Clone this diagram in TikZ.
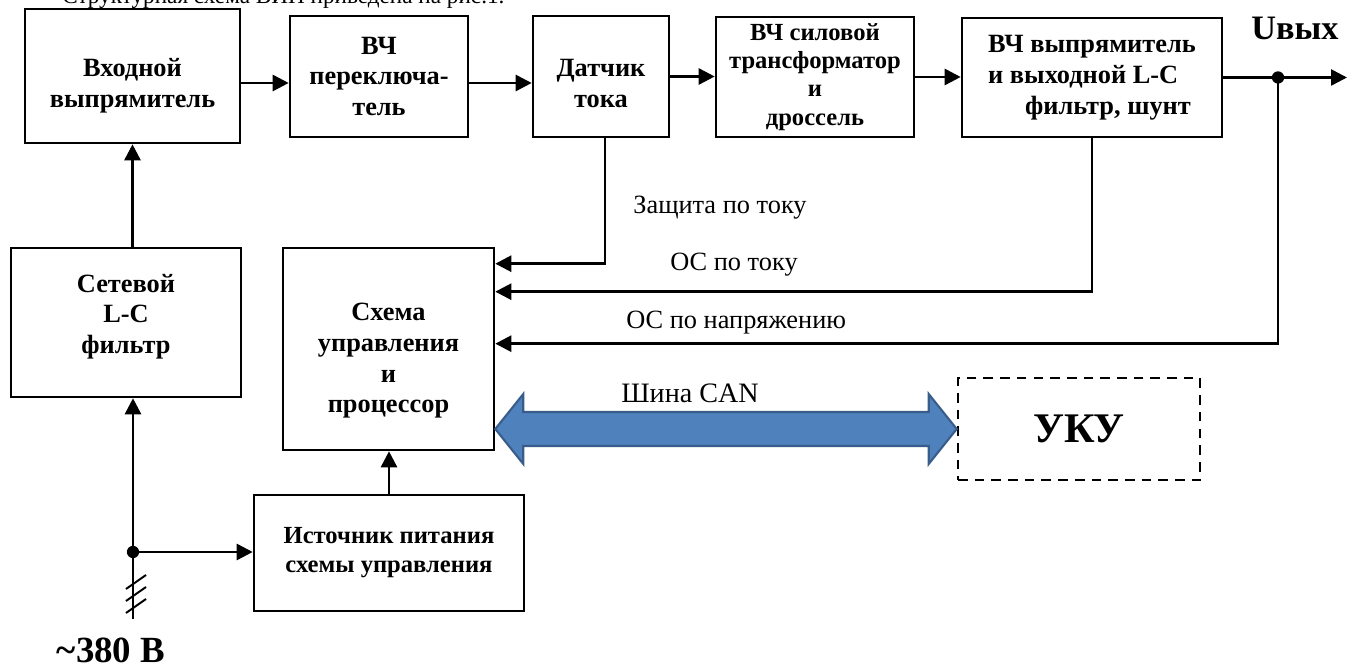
\documentclass[tikz,border=0pt]{standalone}
\usepackage{fontspec}
\setmainfont{Liberation Serif}
\usepackage{xcolor}
\usetikzlibrary{arrows.meta,positioning,calc}

\definecolor{busfill}{RGB}{79,129,189}
\definecolor{busline}{RGB}{56,93,138}
\newcommand{\topgap}[1]{\rule{0pt}{#1}}
\newcommand{\botgap}[1]{\rule[-#1]{0pt}{#1}}

\begin{document}
\begin{tikzpicture}[x=0.02cm, y=-0.02cm,
    block/.style={draw, line width=1.5pt, align=center, inner sep=2pt, font=\fontsize{15}{17.5}\selectfont\bfseries},
    lbl/.style={font=\fontsize{15}{17}\selectfont, anchor=west, inner sep=0pt},
    wire/.style={line width=1.5pt},
    arr/.style={-{Triangle[length=3.2mm, width=3.2mm]}, line width=1.5pt},
    bus/.style={draw=busline, fill=busfill, line width=1.2pt, line join=miter}
]
    \useasboundingbox (0,0) rectangle (1347,671);

    % heading line (cut at the top)
    \node[lbl, anchor=base west, font=\fontsize{13.2}{15}\selectfont] (title) at (62,4) {Структурная схема ВИП приведена на рис.1.};

    % power chain
    \node[block, minimum width=4.3cm, minimum height=2.68cm] (inp) at (132.5,76) {\topgap{21pt}Входной\\выпрямитель};
    \node[block, minimum width=3.56cm, minimum height=2.42cm] (sw) at (379,76.5) {ВЧ\\переключа-\\тель};
    \node[block, minimum width=2.72cm, minimum height=2.42cm] (sens) at (601,76.5) {\topgap{18pt}Датчик\\тока};
    \node[block, minimum width=3.96cm, minimum height=2.4cm, font=\fontsize{14}{16}\selectfont\bfseries] (tr) at (815,77) {ВЧ силовой\\трансформатор\\и\\дроссель};
    \node[block, minimum width=5.2cm, minimum height=2.38cm, align=left] (rect) at (1092,77.5) {ВЧ выпрямитель\\и выходной L-C\\\hspace*{1.4em}фильтр, шунт};

    % filter, control, supply
    \node[block, minimum width=4.6cm, minimum height=2.98cm] (filt) at (126,322.5) {Сетевой\\L-C\\фильтр\botgap{10pt}};
    \node[block, minimum width=4.22cm, minimum height=4.04cm] (ctrl) at (388.5,349) {\topgap{23.5pt}Схема\\управления\\и\\процессор};
    \node[block, minimum width=5.4cm, minimum height=2.32cm, font=\fontsize{14}{16.5}\selectfont\bfseries] (psu) at (389,553) {Источник питания\\схемы управления};
    \node[block, dash pattern=on 5.5pt off 4pt, minimum width=4.84cm, minimum height=2.04cm, font=\fontsize{24}{28}\selectfont\bfseries] (uku) at (1079,429) {УКУ};

    % free ends
    \coordinate (out) at (1347,77.5);
    \coordinate (jo) at (1278,77.5);
    \coordinate (mains) at (133,619);
    \coordinate (jm) at (133,552);

    % forward path
    \draw[arr] ([yshift=-0.14cm]inp.east) -- ([yshift=-0.14cm]inp.east -| sw.west);
    \draw[arr] ([yshift=-0.13cm]sw.east) -- ([yshift=-0.13cm]sw.east -| sens.west);
    \draw[arr] (sens.east) -- (sens.east -| tr.west);
    \draw[arr] (tr.east) -- (tr.east -| rect.west);
    \draw[arr] (rect.east) -- (out);
    \fill (jo) circle (3.5pt);
    \node[font=\fontsize{19.5}{22}\selectfont\bfseries] (uout) at (1295,28) {Uвых};

    % feedback
    \draw[arr] ([xshift=0.08cm]sens.south) |- ([yshift=-0.34cm]ctrl.north east);
    \draw[arr] (rect.south) |- ([yshift=-0.9cm]ctrl.north east);
    \draw[arr] (jo) |- ([yshift=-1.94cm]ctrl.north east);
    \node[lbl] (prot) at (633,208) {Защита по току};
    \node[lbl] (fbi) at (670,265) {ОС по току};
    \node[lbl] (fbu) at (626,323) {ОС по напряжению};

    % mains input
    \draw[arr] (inp.south |- filt.north) -- (inp.south);
    \draw[arr] (mains) -- (mains |- filt.south);
    \draw[arr] (jm) -- (jm -| psu.west);
    \fill (jm) circle (3.5pt);
    \draw[arr] (psu.north) -- (psu.north |- ctrl.south);
    \foreach \i in {0,1,2}
        \draw[line width=1.1pt] ($(mains)+(-7,{-30+12*\i})$) -- ++(20,-14);
    \node[font=\fontsize{21}{24}\selectfont\bfseries] (vin) at (111,650) {\textasciitilde380 В};

    % CAN bus
    \coordinate (busL) at (ctrl.east |- uku.west);
    \draw[bus] (busL) -- ++(28,-35) -- ++(0,18) -- ($(uku.west)+(-28,-17)$) -- ++(0,-18)
        -- (uku.west) -- ++(-28,35) -- ++(0,-18) -- ($(busL)+(28,17)$) -- ++(0,18) -- cycle;
    \node[font=\fontsize{16}{18}\selectfont] (can) at (690,393) {Шина CAN};
\end{tikzpicture}
\end{document}
